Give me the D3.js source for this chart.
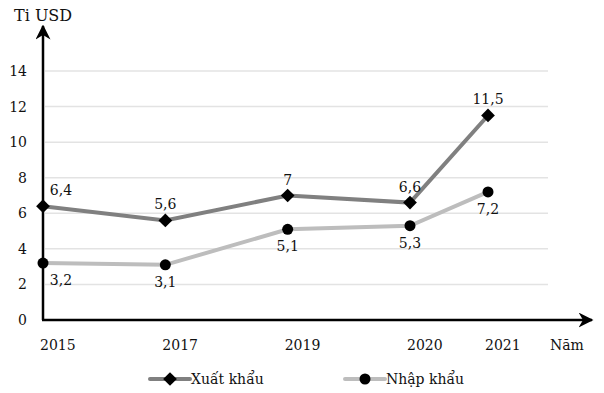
<!DOCTYPE html>
<html>
<head>
<meta charset="utf-8">
<script src="https://cdn.jsdelivr.net/npm/d3@7"></script>
<style>
body { margin: 0; background: #fff; }
svg text { font-family: "DejaVu Serif", serif; fill: #111; }
</style>
</head>
<body>
<div class="container"></div>
<script>
// chart data
var years = ["2015", "2017", "2019", "2020", "2021"];
var xuatKhau = [6.4, 5.6, 7, 6.6, 11.5];
var nhapKhau = [3.2, 3.1, 5.1, 5.3, 7.2];
var yTicks = [0, 2, 4, 6, 8, 10, 12, 14];

const WIDTH = 604;
const HEIGHT = 393;

var svg = d3.select('.container').append('svg')
	.attr('width', WIDTH)
	.attr('height', HEIGHT);

// the last category is drawn closer than the others
var xScale = d3.scaleLinear()
	.domain([0, 3, 4])
	.range([43, 410, 488]);

var yScale = d3.scaleLinear()
	.domain([0, 14])
	.range([320, 71]);

var fmt = function(v){ return String(v).replace('.', ','); };

// gridlines
svg.append('g').selectAll('line').data(yTicks.slice(1))
	.enter().append('line')
	.attr('x1', 45).attr('x2', 548)
	.attr('y1', function(d){ return yScale(d); })
	.attr('y2', function(d){ return yScale(d); })
	.attr('stroke', '#e3e3e3')
	.attr('stroke-width', 1.5);

// y tick labels
svg.append('g').selectAll('text').data(yTicks)
	.enter().append('text')
	.attr('x', 27)
	.attr('y', function(d){ return yScale(d) + 5; })
	.attr('text-anchor', 'end')
	.style('font-size', '14px')
	.text(function(d){ return d; });

// x labels
svg.append('g').selectAll('text').data(years)
	.enter().append('text')
	.attr('x', function(d, i){ return xScale(i) - 3; })
	.attr('y', 350)
	.style('font-size', '14px')
	.text(function(d){ return d; });

// axes with arrow heads
var defs = svg.append('defs');
defs.append('marker')
	.attr('id', 'arrow')
	.attr('viewBox', '0 0 10 10')
	.attr('refX', 9).attr('refY', 5)
	.attr('markerWidth', 6).attr('markerHeight', 6)
	.attr('markerUnits', 'strokeWidth')
	.attr('orient', 'auto')
	.append('path')
	.attr('d', 'M0,0 L10,5 L0,10 L3,5 Z')
	.attr('fill', '#000');

svg.append('path')
	.attr('d', 'M43,320 L43,26')
	.attr('stroke', '#000').attr('stroke-width', 2.5).attr('fill', 'none')
	.attr('marker-end', 'url(#arrow)');
svg.append('path')
	.attr('d', 'M42,320 L592,320')
	.attr('stroke', '#000').attr('stroke-width', 2.5).attr('fill', 'none')
	.attr('marker-end', 'url(#arrow)');

svg.append('text').attr('x', 14).attr('y', 21).style('font-size', '16px').text('Ti USD');
svg.append('text').attr('x', 550).attr('y', 350).style('font-size', '14px').text('Năm');

var line = d3.line()
	.x(function(d, i){ return xScale(i); })
	.y(function(d){ return yScale(d); });

var diamond = d3.symbol().type(d3.symbolDiamond2).size(120);

// Nhập khẩu
svg.append('path').attr('d', line(nhapKhau))
	.attr('fill', 'none').attr('stroke', '#bdbdbd').attr('stroke-width', 4);
svg.append('g').selectAll('circle').data(nhapKhau)
	.enter().append('circle')
	.attr('cx', function(d, i){ return xScale(i); })
	.attr('cy', function(d){ return yScale(d); })
	.attr('r', 5.5).attr('fill', '#000');

// Xuất khẩu
svg.append('path').attr('d', line(xuatKhau))
	.attr('fill', 'none').attr('stroke', '#808080').attr('stroke-width', 4);
svg.append('g').selectAll('path').data(xuatKhau)
	.enter().append('path')
	.attr('d', diamond)
	.attr('transform', function(d, i){ return 'translate(' + xScale(i) + ',' + yScale(d) + ')'; })
	.attr('fill', '#000');

// value labels
svg.append('g').selectAll('text').data(xuatKhau)
	.enter().append('text')
	.attr('x', function(d, i){ return xScale(i) + (i == 0 ? 18 : 0); })
	.attr('y', function(d){ return yScale(d) - 11; })
	.attr('text-anchor', 'middle')
	.style('font-size', '14px')
	.text(fmt);

svg.append('g').selectAll('text').data(nhapKhau)
	.enter().append('text')
	.attr('x', function(d, i){ return xScale(i) + (i == 0 ? 18 : 0); })
	.attr('y', function(d){ return yScale(d) + 22; })
	.attr('text-anchor', 'middle')
	.style('font-size', '14px')
	.text(fmt);

// legend
var legend = [
	{name: 'Xuất khẩu', color: '#808080', x: 150, sym: 'diamond'},
	{name: 'Nhập khẩu', color: '#bdbdbd', x: 345, sym: 'circle'}
];
var lg = svg.append('g').selectAll('g').data(legend)
	.enter().append('g')
	.attr('transform', function(d){ return 'translate(' + d.x + ',379)'; });
lg.append('line').attr('x1', 0).attr('x2', 40)
	.attr('stroke', function(d){ return d.color; })
	.attr('stroke-width', 4).attr('stroke-linecap', 'round');
lg.each(function(d){
	var g = d3.select(this);
	if(d.sym == 'diamond'){
		g.append('path').attr('d', diamond).attr('transform', 'translate(20,0)').attr('fill', '#000');
	} else {
		g.append('circle').attr('cx', 20).attr('r', 5.5).attr('fill', '#000');
	}
});
lg.append('text').attr('x', 41).attr('y', 5)
	.style('font-size', '14px')
	.text(function(d){ return d.name; });
</script>
</body>
</html>
